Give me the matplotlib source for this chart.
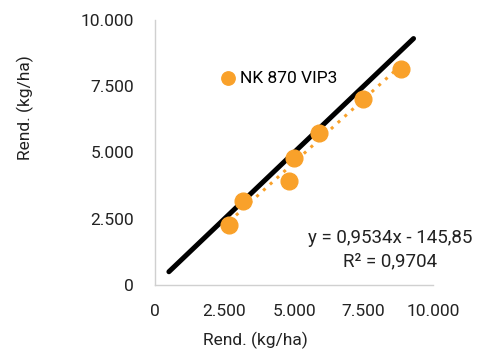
import numpy as np
import matplotlib.pyplot as plt
from matplotlib.ticker import FuncFormatter

plt.rcParams["font.family"] = ["Roboto", "DejaVu Sans"]

# data
obs_x = [2670, 3150, 4830, 5000, 5910, 7490, 8840]
obs_y = [2260, 3170, 3940, 4780, 5720, 7020, 8140]
ref_x = [500, 9300]
ref_y = [500, 9300]
slope = 0.9534
intercept = -145.85
r2 = 0.9704
series_name = "NK 870 VIP3"
ticks = [0, 2500, 5000, 7500, 10000]

orange = "#F9A12A"
txt = "#222222"

fig = plt.figure(figsize=(4.8, 3.59), dpi=100)
ax = fig.add_axes([155 / 480, 1 - 285 / 359, (433 - 155) / 480, (285 - 20) / 359])

# linha 1:1
ax.plot(ref_x, ref_y, color="black", lw=3.6, solid_capstyle="round", zorder=2)
ax.scatter(obs_x, obs_y, s=145, color=orange, zorder=3, label=series_name)

# linha de tendência
tx = np.array([min(obs_x), max(obs_x)])
ax.plot(tx, slope * tx + intercept, color=orange, lw=2.2, ls=(0, (1, 2)), zorder=2.5)

ax.set_xlim(0, 10000)
ax.set_ylim(0, 10000)
ax.set_xticks(ticks)
ax.set_yticks(ticks)
fmt = FuncFormatter(lambda v, p: f"{int(v):,}".replace(",", "."))
ax.xaxis.set_major_formatter(fmt)
ax.yaxis.set_major_formatter(fmt)
ax.tick_params(length=0, labelsize=12.5, colors=txt)
ax.tick_params(axis="x", pad=14)
ax.tick_params(axis="y", pad=15)

for side in ["top", "right"]:
    ax.spines[side].set_visible(False)
for side in ["left", "bottom"]:
    ax.spines[side].set_color("#d0d0d0")
    ax.spines[side].set_linewidth(1)

ax.set_xlabel("Rend. (kg/ha)", fontsize=12.5, color=txt, va="center")
ax.xaxis.set_label_coords(0.36, -0.21)
ax.set_ylabel("Rend. (kg/ha)", fontsize=12.5, color=txt, va="center")
ax.yaxis.set_label_coords(-0.468, 0.668)

ax.legend(loc="center left", bbox_to_anchor=(0.23, 0.78), frameon=False, fontsize=12.5,
          handletextpad=0.2, handlelength=1.0, borderpad=0, borderaxespad=0,
          markerscale=0.8)

ax.text(0.845, 0.177, f"y = {slope:.4f}x - {abs(intercept):.2f}".replace(".", ","),
        transform=ax.transAxes, ha="center", va="center", fontsize=13.5, color=txt)
ax.text(0.845, 0.09, f"R² = {r2:.4f}".replace(".", ","),
        transform=ax.transAxes, ha="center", va="center", fontsize=13.5, color=txt)

fig.savefig("out.png", dpi=100)
